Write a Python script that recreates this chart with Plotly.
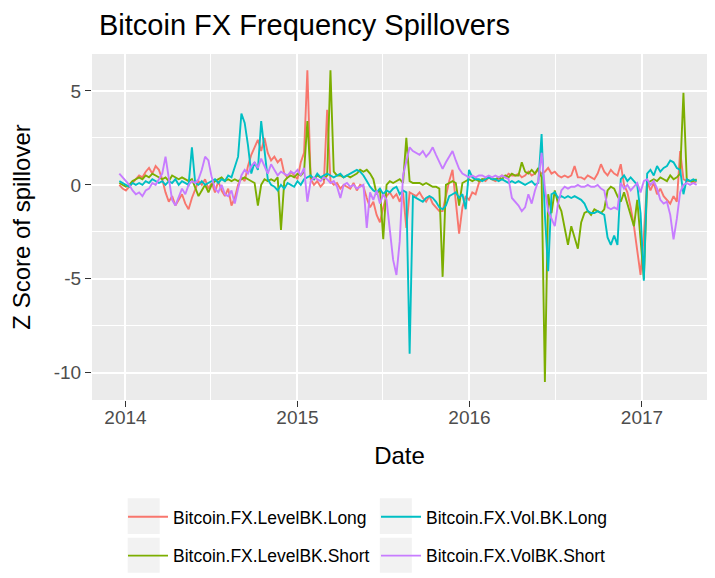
import pandas as pd
import plotly.graph_objects as go

# weekly observation dates
dates = pd.date_range("2013-12-19", periods=176, freq="7D")

level_long = [
    0.0, -0.2, -0.3, -0.1, 0.1,
    0.3, 0.5, 0.4, 0.7,
    0.9, 0.6, 1.0, 0.8,
    0.3, -0.4, -0.9, -0.6,
    -1.1, -0.8, -0.5, -1.0, -1.3,
    -0.7, -0.2, 0.2, 0.0, 0.3,
    -0.2, 0.1, -0.4, 0.2, -0.3,
    -0.6, -0.2, -1.1, -0.7, 0.0,
    0.4, 0.2, 1.0, 1.6, 2.0,
    2.4, 1.8, 2.5, 1.7, 1.3,
    1.5, 1.2, 1.4, 0.6, 0.4,
    0.7, 0.5, 0.3, 1.2, 1.7,
    6.1,
    0.3, 0.0, 0.2, -0.1, 0.1,
    4.0,
    0.2, 0.0, 0.1, -0.2, 0.0, -0.1,
    -0.2, 0.1, -0.3, 0.0, -0.1,
    -0.7, -1.2, -0.9, -1.6, -2.0,
    -1.2, -0.6, -0.4, -0.7, -0.5, -0.9, -0.4,
    -2.3,
    -0.4, -0.5, -0.6, -0.4, -0.7,
    -0.9, -0.6, -1.0, -1.2, -1.4,
    -1.4, -0.6, 0.2, 0.8,
    -0.8, -2.6, -1.2,
    -0.6, -0.8, -0.4, -0.5,
    0.1, 0.3, 0.2, 0.4, 0.3, 0.2,
    0.3, 0.5, 0.4, 0.6, 0.5,
    0.5, 0.6, 0.4, 0.5, 0.7, 0.5, 0.6,
    0.8, 0.6, 0.7, 0.9, 0.6, 0.7, 0.5,
    0.4, 0.5, 0.4, 0.5, 1.0, 0.4,
    0.4, 0.3, 0.5, 0.4, 0.3,
    0.6, 1.1, 0.7, 0.5,
    0.8, 0.6, 0.5,
    1.1, 0.0,
    -0.4, -1.2, -2.2,
    -3.5, -4.8, -2.7,
    0.2, -0.3, 0.1, -0.5,
    -0.2, -0.6, -0.8, -1.0,
    -0.6, -0.9, 1.8,
    0.3, 0.2, 0.2, 0.1, 0.2,
]

level_short = [
    0.1, 0.0, -0.1, 0.0, 0.2,
    0.3, 0.4, 0.3, 0.5, 0.4, 0.6, 0.5, 0.4,
    0.3, 0.4, 0.2, 0.5, 0.4, 0.3, 0.4, 0.3,
    0.2, 0.3, -0.2, -0.6, -0.3, 0.0, -0.4,
    0.0, 0.2, 0.3, 0.4, 0.2, 0.3, 0.2,
    0.3, 0.2, 0.3, 0.4, 0.3, 0.2, 0.1,
    -1.1, 0.0, 0.3, 0.2, 0.3,
    0.2, 0.4, -2.4, 0.2, 0.4,
    0.5, 0.4, 0.6, 0.5, 0.7,
    3.4,
    0.4, 0.3, 0.5, 0.4, 0.3, 0.5,
    6.1,
    0.7, 0.5, 0.5, 0.4, 0.5, 0.4, 0.5, 0.6,
    0.8, 0.7, 0.8, 0.6, 0.3, -0.5,
    -0.2, -2.9, 0.0,
    0.2, 0.1, 0.2, 0.3, 0.1,
    2.5,
    0.2, 0.1, 0.1, 0.1, 0.0, 0.1, 0.0, -0.1, -0.1, -0.2,
    -4.9,
    0.0, 0.1, 0.2, 0.1, -1.1,
    0.1, 0.2, 0.3, 0.2, 0.3, 0.2, 0.3,
    0.3, 0.4, 0.3, 0.3, 0.4, 0.3, 0.5, 0.4,
    0.6, 0.5, 0.5, 1.2, 0.7, 0.6, 0.8, 0.6,
    0.9, 0.4,
    -10.5,
    -0.5, -1.5, -0.3, -1.0, -1.4,
    -2.3, -3.2, -2.2, -2.8, -3.4,
    -2.0, -1.5, -1.4, -1.6, -1.3, -1.4, -1.5,
    -1.3, -0.3, -0.1, -0.2,
    -0.6, -0.9, -0.4, -1.0, -1.5, -2.2,
    -0.8,
    -2.9, -5.0,
    0.1, 0.2, 0.3, 0.2, 0.4, 0.3, 0.2,
    0.5, 0.3, 0.4, 0.6,
    4.9,
    0.3, 0.2, 0.2, 0.3,
]

vol_long = [
    0.2, 0.1, 0.0, -0.1, 0.1, 0.0, 0.1,
    0.0, 0.2, 0.1, 0.3, 0.2, 0.1, 0.2, 0.0,
    0.2, 0.1, 0.3, 0.0, 0.2, 0.1, 0.0,
    2.0,
    0.1, 0.0, 0.2, 0.0, 0.1, 0.2, 0.3,
    0.1, 0.3, 0.2, 0.5, 0.4,
    1.0, 1.5, 3.8,
    3.3, 2.1,
    0.6, 1.2, 0.8, 3.4,
    2.0, 0.3, 0.0, -0.1,
    -0.3, 0.0, -0.2, 0.1, 0.0,
    -0.1, 0.2, 0.0, 0.3,
    0.4, 0.5, 0.3, 0.6, 0.4, 0.5,
    0.6, 0.5, 0.4, 0.5, 0.6, 0.4, 0.5, 0.6,
    0.7, 0.8, 0.7, 0.5,
    0.2, -0.1, -0.3, -0.4, -0.2, -0.5,
    -0.3, -0.4, -0.2, -0.1, -0.5, -0.3, -0.4,
    -9.0,
    -0.6, -0.7, -0.8, -0.9, -0.7, -0.6, -0.7, -0.9,
    -1.2, -1.3, -1.1, -0.6, -0.5,
    -0.4, -0.7, -0.5,
    -1.3, 0.8,
    0.4, 0.3, 0.3, 0.2, 0.3, 0.4, 0.3,
    0.3, 0.2, 0.3, 0.2, 0.1, 0.2, 0.1,
    0.2, 0.1, 0.0, 0.1, 0.2, 0.0, 0.1,
    2.7,
    -1.6,
    -4.6,
    -0.5, -0.4, -0.7, -0.6,
    -0.7, -0.6, -0.7, -0.6, -0.7, -0.8, -1.0,
    -1.4, -1.5, -1.5, -1.4, -1.5, -1.6, -2.8,
    -3.2, -2.7, -3.2,
    0.3, 0.5, 0.2, 0.4,
    0.2, 0.0, -1.5,
    -5.1,
    0.6, 0.8, 0.5, 1.0, 0.7, 0.9, 1.0,
    1.3, 1.2, 0.9, 0.8,
    -0.5, 0.3, 0.2, 0.3, 0.2,
]

vol_short = [
    0.6, 0.4, 0.2, 0.0, -0.3,
    -0.5, -0.4, -0.6, -0.3, -0.2,
    0.1, 0.0, 0.3, 0.6,
    1.5, 0.3,
    -0.8, -1.1, -0.6, -0.2,
    -0.5, 0.0, 0.2, 0.1, 0.3,
    0.8, 1.5, 1.3,
    0.4, -0.2, -0.4, 0.0, -0.5,
    -0.6, -0.3, -1.0,
    -0.2, 0.5, 0.8, 0.6, 1.0,
    1.2, 0.9, 1.4, 1.0,
    0.6, 1.1, 0.8, 0.5, 0.7,
    0.6, 0.5, 0.7, 0.6, 0.8, 0.5,
    0.9, -0.9,
    0.2, 0.4, 0.3, 0.2, 0.4, 0.3, 0.1,
    0.2, -0.1,
    -0.7,
    0.0, 0.1, -0.1, 0.0, -0.2, -0.1, 0.0,
    -2.3,
    -0.4, -0.8, -0.3, -1.0, -0.5,
    -0.8, -2.3, -4.0, -4.8, -3.0, 0.5, 1.3, 2.0, 1.8,
    1.7, 1.6, 1.8, 1.5, 1.7, 2.0, 1.6, 1.2,
    0.85, 1.2, 1.5, 1.8,
    1.3, 0.85, 0.6,
    0.5, 0.4, 0.5, 0.4, 0.5, 0.5, 0.4,
    0.5, 0.4, 0.5, 0.4, 0.5, 0.4, 0.3,
    -0.7, -0.9, -1.1, -1.4, -1.2,
    -0.5, -1.0, -0.3, 0.2,
    1.7,
    -0.2, -1.4, -1.8, -2.2,
    -1.0, -0.3, -0.1, -0.2, -0.1,
    -0.1, 0.0, -0.1, -0.1, 0.0, -0.1, -0.1, 0.0,
    -0.2, -0.3,
    -1.2, -1.3, -1.2, -1.3,
    0.1, -0.2, 0.0, -0.3, -0.1,
    0.1, -0.4, 0.2, 0.3, 0.0, 0.2, -0.2,
    -0.8, -1.0, -0.9,
    -1.6, -2.9, -1.8,
    -0.4, 0.0, 0.1, 0.0, 0.1, 0.0,
]

y_ticks = [-10, -5, 0, 5]
y_ticklabels = ["-10", "-5", "0", "5"]

# (name, values, colour, legend row, order within row)
SERIES = [
    ("Bitcoin.FX.LevelBK.Long",  level_long,  "#F8766D", "legend",  1),
    ("Bitcoin.FX.LevelBK.Short", level_short, "#7CAE00", "legend2", 1),
    ("Bitcoin.FX.Vol.BK.Long",   vol_long,    "#00BFC4", "legend",  2),
    ("Bitcoin.FX.VolBK.Short",   vol_short,   "#C77CFF", "legend2", 2),
]

FONT = "Liberation Sans, Arial, Helvetica, sans-serif"

fig = go.Figure()
for name, vals, color, leg, rank in SERIES:
    fig.add_trace(go.Scatter(
        x=dates, y=vals, name=name, mode="lines",
        line=dict(color=color, width=1.9),
        legend=leg, legendrank=rank,
    ))

# grey legend key boxes (ggplot style)
for x0 in (0.058, 0.468):
    for y0, y1 in ((-0.284, -0.387), (-0.398, -0.499)):
        fig.add_shape(type="rect", xref="paper", yref="paper",
                      x0=x0, x1=x0 + 0.052, y0=y0, y1=y1,
                      fillcolor="#F2F2F2", line=dict(width=0), layer="below")

leg_common = dict(orientation="h", xanchor="left", x=0.0504, yanchor="middle",
                  entrywidth=198, itemwidth=40,
                  font=dict(size=17.5, color="black"),
                  bgcolor="rgba(0,0,0,0)", borderwidth=0)

# page body has an 8px margin, so the figure is laid out 8px up/left
fig.update_layout(
    width=715, height=578,
    margin=dict(l=84, r=16, t=46, b=183),
    paper_bgcolor="white",
    plot_bgcolor="#EBEBEB",
    font=dict(family=FONT, color="black"),
    title=dict(text="Bitcoin FX Frequency Spillovers", x=91 / 715, xanchor="left",
               y=1 - 17 / 578, yanchor="middle", font=dict(size=29, color="black")),
    legend=dict(y=-0.338, **leg_common),
    legend2=dict(y=-0.45, **leg_common),
    showlegend=True,
)

fig.update_xaxes(
    type="date", range=["2013-10-22", "2017-05-19"],
    tick0="2014-01-01", dtick="M12", tickformat="%Y",
    showgrid=True, gridcolor="white", gridwidth=1.7, zeroline=False,
    ticks="outside", ticklen=6, tickwidth=1.3, tickcolor="#333333",
    tickfont=dict(size=19, color="#4D4D4D"), ticklabelstandoff=-6,
    minor=dict(dtick="M6", tick0="2014-01-01", showgrid=True,
               gridcolor="white", gridwidth=0.8, ticks=""),
    title=dict(text="Date", font=dict(size=24, color="black"), standoff=20),
    automargin=False,
)
fig.update_yaxes(
    range=[-11.46, 6.97], tickvals=y_ticks, ticktext=y_ticklabels,
    showgrid=True, gridcolor="white", gridwidth=1.7, zeroline=False,
    ticks="outside", ticklen=6, tickwidth=1.3, tickcolor="#333333",
    tickfont=dict(size=19, color="#4D4D4D"),
    minor=dict(dtick=2.5, tick0=0, showgrid=True,
               gridcolor="white", gridwidth=0.8, ticks=""),
    title=dict(text="Z Score of spillover", font=dict(size=24, color="black"), standoff=16),
    automargin=False,
)

fig.write_html("out.html")
